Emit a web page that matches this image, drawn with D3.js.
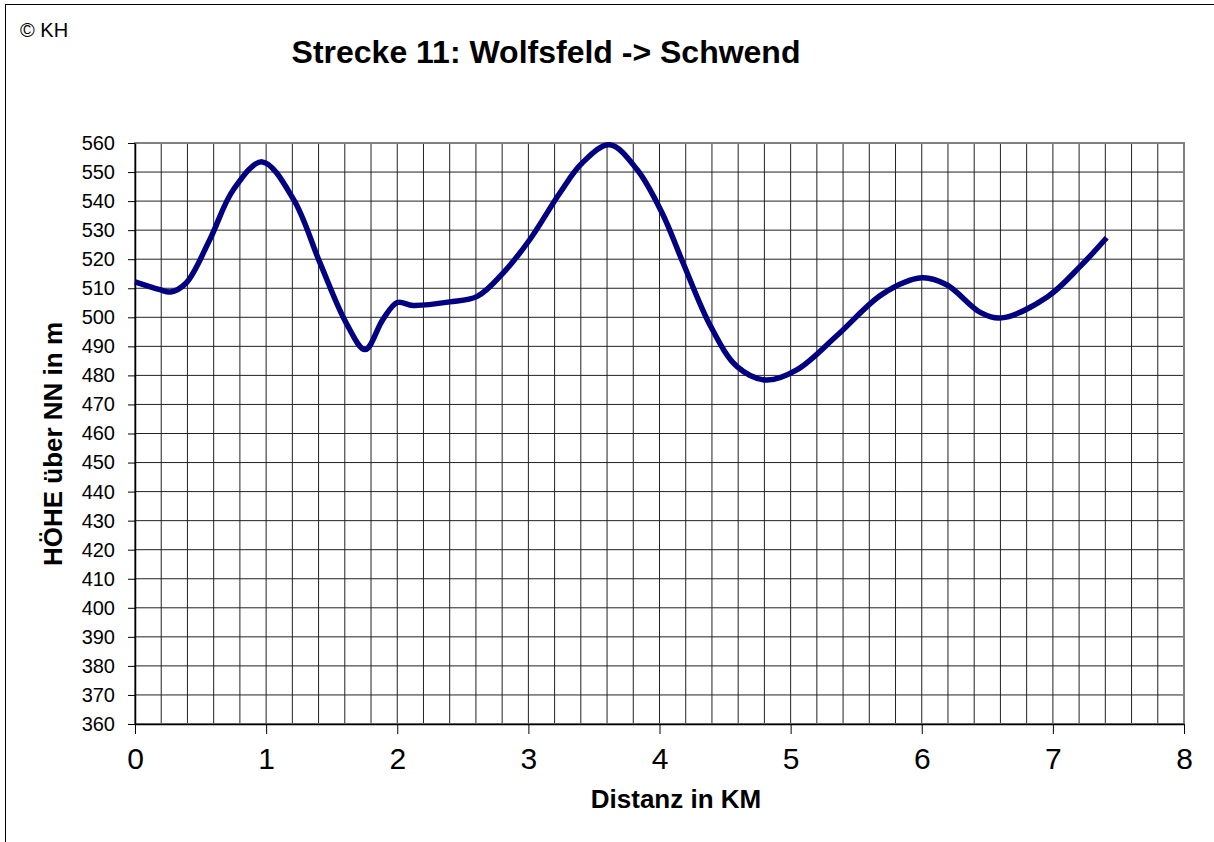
<!DOCTYPE html>
<html><head><meta charset="utf-8">
<script src="https://cdn.jsdelivr.net/npm/d3@7"></script>
<style>body{margin:0;background:#fff}svg{display:block;font-family:Arial,"Liberation Sans",sans-serif}</style>
</head><body>
<svg id="c" width="1214" height="842"></svg>
<script>
const distKm = [0, 0.19, 0.27, 0.39, 0.57, 0.75, 0.97, 1.21, 1.41, 1.61, 1.755, 1.89, 2.0, 2.12, 2.4, 2.61, 2.81, 3.01, 3.24, 3.41, 3.62, 3.83, 4.02, 4.18, 4.39, 4.59, 4.81, 5.05, 5.36, 5.7, 6.0, 6.19, 6.45, 6.61, 6.96, 7.21, 7.41];
const heightM = [512.2, 509.5, 508.7, 511.8, 526.7, 543.9, 553.5, 540.5, 518.8, 498.1, 488.9, 499.2, 505.1, 504.1, 505.3, 507.2, 515.4, 526.7, 542.8, 553.1, 559.4, 550.8, 535.9, 518.7, 496.9, 483.1, 478.4, 482, 494, 508, 513.6, 511.2, 501.6, 499.8, 507.1, 517.6, 527.4];
const xTicks = [0,1,2,3,4,5,6,7,8];
const yTicks = d3.range(360, 561, 10);
const xGrid = d3.range(0, 40).map(i => +(i*0.2).toFixed(1));
const titleText = "Strecke 11: Wolfsfeld -> Schwend";

const svg = d3.select("#c");
svg.append("rect").attr("x",5.5).attr("y",4.5).attr("width",1300).attr("height",1000)
  .attr("fill","none").attr("stroke","#000").attr("stroke-width",1);

const L=135, R=1184, T=143, B=724;
const x = d3.scaleLinear().domain([0,8]).range([L,R]);
const y = d3.scaleLinear().domain([360,560]).range([B,T]);

const g = svg.append("g");
g.selectAll("line.vg").data(xGrid.slice(1)).join("line")
  .attr("x1",d=>x(d)).attr("x2",d=>x(d)).attr("y1",T).attr("y2",B)
  .attr("stroke","#222").attr("stroke-width",1);
g.selectAll("line.hg").data(yTicks.slice(1,-1)).join("line")
  .attr("y1",d=>y(d)).attr("y2",d=>y(d)).attr("x1",L).attr("x2",R)
  .attr("stroke","#222").attr("stroke-width",1);
g.append("rect").attr("x",L).attr("y",T).attr("width",R-L).attr("height",B-T)
  .attr("fill","none").attr("stroke","#808080").attr("stroke-width",2);

const ya = svg.append("g").attr("transform",`translate(${L},0)`)
  .call(d3.axisLeft(y).tickValues(yTicks).tickSize(7).tickSizeOuter(0).tickPadding(13));
ya.select(".domain").attr("stroke","#000").attr("stroke-width",1.5);
ya.selectAll(".tick line").attr("stroke","#000");
ya.selectAll("text").attr("font-size",20).attr("fill","#000").attr("font-family","Arial, Liberation Sans, sans-serif");

const xa = svg.append("g").attr("transform",`translate(0,${B})`)
  .call(d3.axisBottom(x).tickValues(xTicks).tickSize(10).tickSizeOuter(0).tickPadding(14));
xa.select(".domain").attr("stroke","#000").attr("stroke-width",1.5);
xa.selectAll(".tick line").attr("stroke","#000");
xa.selectAll("text").attr("font-size",30).attr("fill","#000").attr("font-family","Arial, Liberation Sans, sans-serif");

const line = d3.line().x((d,i)=>x(distKm[i])).y(d=>y(d)).curve(d3.curveCatmullRom.alpha(0.5));
svg.append("path").attr("d",line(heightM)).attr("fill","none")
  .attr("stroke","#000080").attr("stroke-width",5.5).attr("stroke-linejoin","round").attr("stroke-linecap","butt");

svg.append("text").attr("x",20).attr("y",37).attr("font-size",20).text("© KH");
svg.append("text").attr("x",546).attr("y",63).attr("text-anchor","middle")
  .attr("font-size",32).attr("font-weight","bold").text(titleText);
svg.append("text").attr("x",676).attr("y",808).attr("text-anchor","middle")
  .attr("font-size",26).attr("font-weight","bold").text("Distanz in KM");
svg.append("text").attr("transform","translate(62,444) rotate(-90)").attr("text-anchor","middle")
  .attr("font-size",26).attr("font-weight","bold").text("HÖHE über NN in m");
</script>
</body></html>
